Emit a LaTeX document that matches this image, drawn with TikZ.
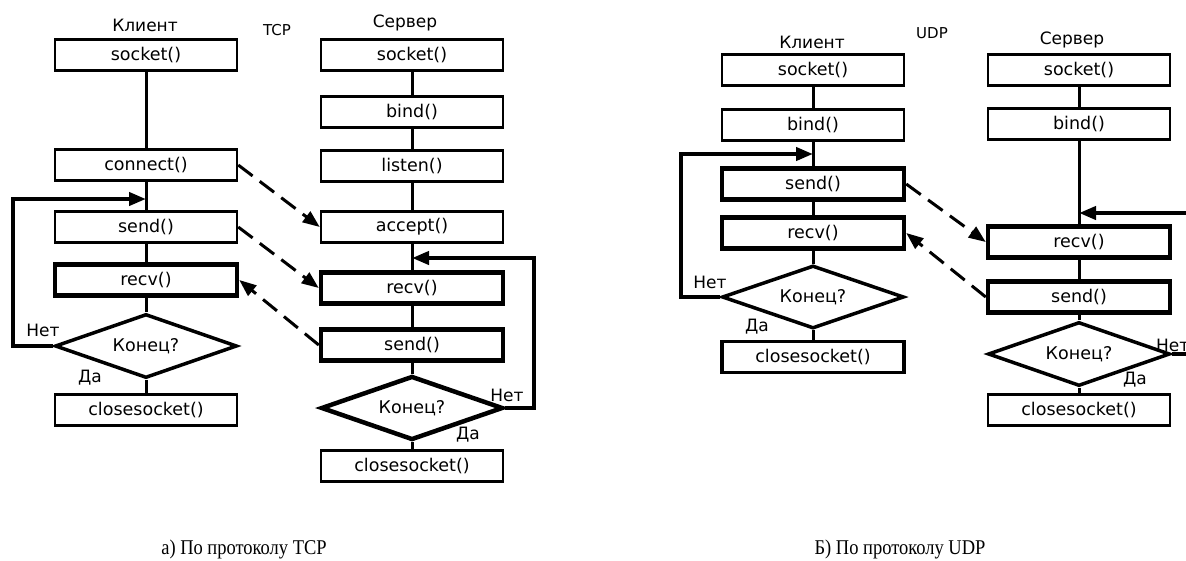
\documentclass[tikz,border=0pt]{standalone}
\usepackage{fontspec}
\usepackage{graphicx}
\usetikzlibrary{arrows.meta,positioning,shapes.geometric}
\newfontfamily\diagfont{DejaVu Sans}
\newfontfamily\capfont{Liberation Serif}

\begin{document}
\begin{tikzpicture}[
  x=1pt, y=-1pt,
  box/.style={draw, line width=2.5pt, minimum width=182pt, minimum height=31pt,
    inner sep=0pt, font=\diagfont\fontsize{17.5}{19}\selectfont},
  boldbox/.style={box, line width=4.5pt},
  decision/.style={draw, diamond, aspect=2.8, line width=3.5pt, minimum width=182pt,
    minimum height=64pt, inner sep=0pt, font=\diagfont\fontsize{17.5}{19}\selectfont},
  bolddecision/.style={decision, line width=4.5pt},
  line/.style={line width=3pt},
  loop/.style={line width=4pt, -{Triangle[length=17pt, width=13pt]}},
  message/.style={line width=3pt, dash pattern=on 18pt off 9pt,
    -{Triangle[length=17pt, width=13pt]}},
  label/.style={font=\diagfont\fontsize{17}{19}\selectfont, inner sep=0pt},
  proto/.style={font=\diagfont\fontsize{15}{17}\selectfont, inner sep=0pt},
  caption/.style={font=\capfont\fontsize{21}{23}\selectfont}
]
  \useasboundingbox (0,0) rectangle (1186,560);
  \clip (0,0) rectangle (1186,560);

  % --- TCP: client ---
  \node[label] (tcname) at (145,25) {Клиент};
  \node[proto] (tcpname) at (277,30) {TCP};
  \node[box] (tcsock) at (146,55) {socket()};
  \node[box] (tcconn) at (146,165) {connect()};
  \node[box] (tcsend) at (146,227) {send()};
  \node[boldbox] (tcrecv) at (146,280) {recv()};
  \node[decision] (tcend) at (146,346) {Конец?};
  \node[box] (tcclose) at (146,410) {closesocket()};
  \coordinate (tcjoin) at (146,199);
  \node[label] (tcno) at (43,330) {Нет};
  \node[label] (tcyes) at (90,378) {Да};

  % --- TCP: server ---
  \node[label] (tsname) at (405,23) {Сервер};
  \node[box] (tssock) at (412,55) {socket()};
  \node[box] (tsbind) at (412,112) {bind()};
  \node[box] (tslisten) at (412,166) {listen()};
  \node[box] (tsacc) at (412,227) {accept()};
  \node[boldbox] (tsrecv) at (412,288) {recv()};
  \node[boldbox] (tssend) at (412,345) {send()};
  \node[bolddecision] (tsend) at (412,408) {Конец?};
  \node[box] (tsclose) at (412,466) {closesocket()};
  \coordinate (tsjoin) at (412,258);
  \node[label] (tsno) at (507,395) {Нет};
  \node[label] (tsyes) at (468,435) {Да};

  % --- UDP: client ---
  \node[label] (ucname) at (812,42) {Клиент};
  \node[proto] (udpname) at (932,33) {UDP};
  \node[box] (ucsock) at (813,70) {socket()};
  \node[box] (ucbind) at (813,125) {bind()};
  \node[boldbox] (ucsend) at (813,184) {send()};
  \node[boldbox] (ucrecv) at (813,233) {recv()};
  \node[decision, minimum height=63pt] (ucend) at (813,297) {Конец?};
  \node[box, line width=3.5pt] (ucclose) at (813,357) {closesocket()};
  \coordinate (ucjoin) at (813,154);
  \node[label] (ucno) at (710,282) {Нет};
  \node[label] (ucyes) at (757,327) {Да};

  % --- UDP: server ---
  \node[label] (usname) at (1072,40) {Сервер};
  \node[box] (ussock) at (1079,70) {socket()};
  \node[box] (usbind) at (1079,124) {bind()};
  \node[boldbox] (usrecv) at (1079,242) {recv()};
  \node[boldbox] (ussend) at (1079,297) {send()};
  \node[decision] (usend) at (1079,354) {Конец?};
  \node[box] (usclose) at (1079,410) {closesocket()};
  \coordinate (usjoin) at (1079,213);
  \node[label, anchor=west] (usno) at (1156,345) {Нет};
  \node[label] (usyes) at (1135,380) {Да};

  % --- vertical flow ---
  \draw[line] (tcsock) -- (tcconn);
  \draw[line] (tcconn) -- (tcsend);
  \draw[line] (tcsend) -- (tcrecv);
  \draw[line] (tcrecv) -- (tcend);
  \draw[line] (tcend) -- (tcclose);

  \draw[line] (tssock) -- (tsbind);
  \draw[line] (tsbind) -- (tslisten);
  \draw[line] (tslisten) -- (tsacc);
  \draw[line] (tsacc) -- (tsrecv);
  \draw[line] (tsrecv) -- (tssend);
  \draw[line] (tssend) -- (tsend);
  \draw[line] (tsend) -- (tsclose);

  \draw[line] (ucsock) -- (ucbind);
  \draw[line] (ucbind) -- (ucsend);
  \draw[line] (ucsend) -- (ucrecv);
  \draw[line] (ucrecv) -- (ucend);
  \draw[line] (ucend) -- (ucclose);

  \draw[line] (ussock) -- (usbind);
  \draw[line] (usbind) -- (usrecv);
  \draw[line] (usrecv) -- (ussend);
  \draw[line] (ussend) -- (usend);
  \draw[line] (usend) -- (usclose);

  % --- loops (Нет) ---
  \draw[loop] (tcend.west) -- ++(-40,0) |- (tcjoin);
  \draw[loop] (tsend.east) -- ++(29,0) |- (tsjoin);
  \draw[loop] (ucend.west) -- ++(-39,0) |- (ucjoin);
  \draw[loop] (usend.east) -- ++(30,0) |- (usjoin);

  % --- messages ---
  \draw[message] (tcconn.east) -- (tsacc.west);
  \draw[message] (tcsend.east) -- (tsrecv.west);
  \draw[message] (tssend.west) -- (tcrecv.east);
  \draw[message] (ucsend.east) -- (usrecv.west);
  \draw[message] (ussend.west) -- (ucrecv.east);

  % --- captions ---
  \node[caption] (tcpcap) at (244,549) {\scalebox{0.88}[1]{а) По протоколу TCP}};
  \node[caption] (udpcap) at (900,549) {\scalebox{0.88}[1]{Б) По протоколу UDP}};
\end{tikzpicture}
\end{document}
